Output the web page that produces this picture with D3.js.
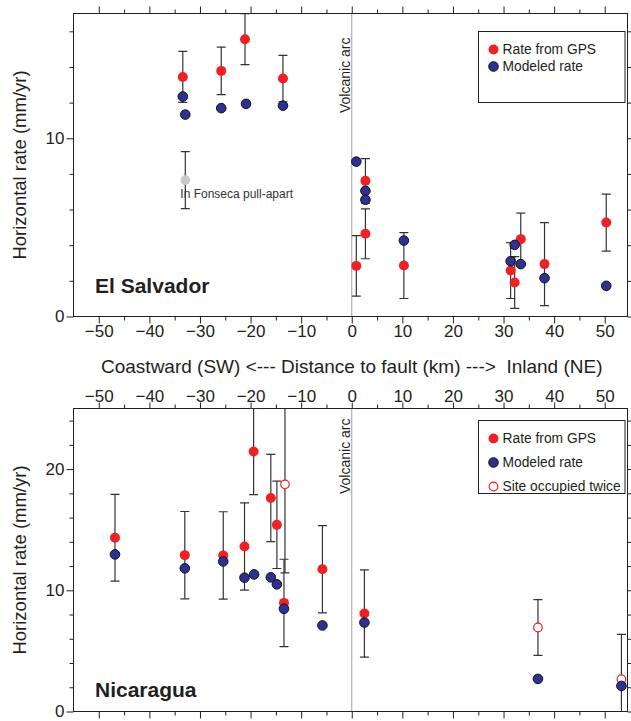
<!DOCTYPE html>
<html><head><meta charset="utf-8">
<script src="https://cdn.jsdelivr.net/npm/d3@7"></script>
<style>
body{margin:0;background:#fff;}
svg text{font-family:"Liberation Sans",Arial,Helvetica,sans-serif;}
</style>
</head><body>
<svg id="chart" width="631" height="721"></svg>
<script>
// ---------- data ----------
const distTicks = [-50, -40, -30, -20, -10, 0, 10, 20, 30, 40, 50];
const distMinorTicks = [-45, -35, -25, -15, -5, 5, 15, 25, 35, 45];
const esRateTicks = [0, 10];
const esRateMinorTicks = [2, 4, 6, 8, 12, 14, 16];
const niRateTicks = [0, 10, 20];
const niRateMinorTicks = [2, 4, 6, 8, 12, 14, 16, 18, 22, 24];

// El Salvador
const esGpsDist = [-33.4, -25.8, -21.1, -13.6, 0.9, 2.7, 2.7, 10.3, 31.4, 32.2, 33.4, 38.1, 50.3];
const esGpsRate = [13.44, 13.78, 15.56, 13.35, 2.84, 7.61, 4.64, 2.86, 2.58, 1.91, 4.34, 2.94, 5.27];
const esGpsErr  = [1.43, 1.33, 1.43, 1.30, 1.70, 1.25, 1.40, 1.85, 1.57, 1.45, 1.46, 2.33, 1.60];
const esModDist = [-33.4, -32.9, -25.8, -20.9, -13.6, 0.9, 2.7, 2.7, 10.3, 31.4, 32.2, 33.4, 38.1, 50.3];
const esModRate = [12.34, 11.33, 11.69, 11.93, 11.83, 8.69, 7.05, 6.55, 4.26, 3.10, 4.02, 2.94, 2.15, 1.72];
const esFonsecaDist = [-32.9];
const esFonsecaRate = [7.65];
const esFonsecaErr  = [1.60];

// Nicaragua
const niGpsDist = [-46.8, -33.0, -25.4, -21.2, -19.4, -16.0, -14.8, -13.4, -5.8, 2.5];
const niGpsRate = [14.33, 12.90, 12.88, 13.62, 21.45, 17.62, 15.40, 8.96, 11.73, 8.08];
const niGpsErr  = [3.58, 3.60, 3.60, 3.60, 3.56, 3.60, 3.60, 3.60, 3.60, 3.60];
const niTwiceDist = [-13.2, 36.8, 53.3];
const niTwiceRate = [18.74, 6.93, 2.66];
const niTwiceErr  = [7.31, 2.30, 3.70];
const niModDist = [-46.8, -33.0, -25.4, -21.2, -19.3, -16.0, -14.8, -13.4, -5.8, 2.5, 36.8, 53.3];
const niModRate = [12.96, 11.81, 12.38, 11.04, 11.31, 11.07, 10.49, 8.47, 7.10, 7.34, 2.69, 2.11];

// ---------- layout ----------
const RED = "#ec2227", BLUE = "#2e3192", GREY = "#c9c9c9", INK = "#231f20";
const L = 73.5, R = 627.5;
const x = d3.scaleLinear().domain([-55, 54.5]).range([L, R]);
const yES = d3.scaleLinear().domain([0, 17]).range([316.5, 13.5]);
const yNI = d3.scaleLinear().domain([0, 25]).range([711.5, 408.5]);

const svg = d3.select("#chart");
const FONT = '"Liberation Sans",Arial,Helvetica,sans-serif';

function styleAxis(g, size) {
  g.attr("font-family", FONT).attr("font-size", size);
  g.select(".domain").remove();
  g.selectAll(".tick line").attr("stroke", INK).attr("stroke-width", 1);
  g.selectAll(".tick text").attr("fill", INK);
}

function panel(id, y, rateTicks, rateMinor, xLabelsBelow, arcOffset) {
  const [y0, y1] = y.range(); // bottom, top
  const g = svg.append("g");

  // x axis bottom
  const gb = g.append("g").attr("transform", `translate(0,${y0})`)
    .call(d3.axisBottom(x).tickValues(distTicks).tickSize(7).tickPadding(1)
      .tickFormat(xLabelsBelow ? d3.format("d") : () => ""));
  styleAxis(gb, 17);
  const gbm = g.append("g").attr("transform", `translate(0,${y0})`)
    .call(d3.axisBottom(x).tickValues(distMinorTicks).tickSize(4).tickFormat(() => ""));
  styleAxis(gbm, 17);

  // x axis top
  const gt = g.append("g").attr("transform", `translate(0,${y1})`)
    .call(d3.axisTop(x).tickValues(distTicks).tickSize(xLabelsBelow ? 7 : 6).tickPadding(1)
      .tickFormat(xLabelsBelow ? () => "" : d3.format("d")));
  styleAxis(gt, 17);
  const gtm = g.append("g").attr("transform", `translate(0,${y1})`)
    .call(d3.axisTop(x).tickValues(distMinorTicks).tickSize(4).tickFormat(() => ""));
  styleAxis(gtm, 17);

  // y axis left
  const gl = g.append("g").attr("transform", `translate(${L},0)`)
    .call(d3.axisLeft(y).tickValues(rateTicks).tickSize(7).tickPadding(2).tickFormat(d3.format("d")));
  styleAxis(gl, 17);
  const glm = g.append("g").attr("transform", `translate(${L},0)`)
    .call(d3.axisLeft(y).tickValues(rateMinor).tickSize(4).tickFormat(() => ""));
  styleAxis(glm, 17);

  // y axis right
  const gr = g.append("g").attr("transform", `translate(${R},0)`)
    .call(d3.axisRight(y).tickValues(rateTicks.concat(rateMinor)).tickSize(4).tickFormat(() => ""));
  styleAxis(gr, 17);

  // frame
  g.append("rect").attr("x", L).attr("y", y1).attr("width", R - L).attr("height", y0 - y1)
    .attr("fill", "none").attr("stroke", INK).attr("stroke-width", 1);

  // volcanic arc line
  g.append("line").attr("x1", x(0)).attr("x2", x(0)).attr("y1", y1).attr("y2", y0)
    .attr("stroke", "#444").attr("stroke-width", 1).attr("stroke-dasharray", "1,1");
  g.append("text").attr("transform", `translate(${x(0) - 2},${y1 + arcOffset}) rotate(-90)`)
    .attr("text-anchor", "end").attr("font-size", 14).attr("fill", INK).text("Volcanic arc");

  // y label
  g.append("text").attr("transform", `translate(26,${(y0 + y1) / 2}) rotate(-90)`)
    .attr("text-anchor", "middle").attr("font-size", 18.5).attr("fill", INK)
    .text("Horizontal rate (mm/yr)");

  // clip
  svg.append("clipPath").attr("id", id).append("rect")
    .attr("x", L).attr("y", y1).attr("width", R - L).attr("height", y0 - y1);
  const plot = g.append("g").attr("clip-path", `url(#${id})`);
  return plot;
}

function errorBars(plot, y, dist, rate, err, color) {
  const gg = plot.append("g").attr("stroke", color).attr("stroke-width", 1.2).attr("fill", "none");
  dist.forEach((d, i) => {
    const cx = x(d), lo = y(rate[i] - err[i]), hi = y(rate[i] + err[i]);
    gg.append("line").attr("x1", cx).attr("x2", cx).attr("y1", lo).attr("y2", hi);
    gg.append("line").attr("x1", cx - 4.5).attr("x2", cx + 4.5).attr("y1", lo).attr("y2", lo);
    gg.append("line").attr("x1", cx - 4.5).attr("x2", cx + 4.5).attr("y1", hi).attr("y2", hi);
  });
}

function dots(plot, y, dist, rate, fill, stroke, r, sw) {
  plot.append("g").selectAll("circle").data(dist).join("circle")
    .attr("cx", d => x(d)).attr("cy", (d, i) => y(rate[i])).attr("r", r)
    .attr("fill", fill).attr("stroke", stroke).attr("stroke-width", sw);
}

function legend(x0, y0, w, h, items, rowH) {
  const g = svg.append("g");
  g.append("rect").attr("x", x0).attr("y", y0).attr("width", w).attr("height", h)
    .attr("fill", "#fff").attr("stroke", INK).attr("stroke-width", 1);
  items.forEach((it, i) => {
    const cy = y0 + 18 + i * rowH;
    g.append("circle").attr("cx", x0 + 15).attr("cy", cy).attr("r", it.r)
      .attr("fill", it.fill).attr("stroke", it.stroke).attr("stroke-width", it.sw);
    g.append("text").attr("x", x0 + 24).attr("y", cy).attr("dy", "0.35em")
      .attr("font-size", 13.8).attr("fill", INK).text(it.label);
  });
}

// ---------- El Salvador ----------
const pES = panel("clipES", yES, esRateTicks, esRateMinorTicks, true, 24);
errorBars(pES, yES, esGpsDist, esGpsRate, esGpsErr, "#333");
errorBars(pES, yES, esFonsecaDist, esFonsecaRate, esFonsecaErr, "#333");
dots(pES, yES, esFonsecaDist, esFonsecaRate, GREY, "none", 4.8, 0);
dots(pES, yES, esGpsDist, esGpsRate, RED, "none", 5, 0);
dots(pES, yES, esModDist, esModRate, BLUE, "#111", 4.8, 1);
svg.append("text").attr("x", x(esFonsecaDist[0]) - 5).attr("y", yES(esFonsecaRate[0]) + 18)
  .attr("font-size", 12).attr("fill", "#333").text("In Fonseca pull-apart");
svg.append("text").attr("x", 95).attr("y", 293).attr("font-size", 21).attr("font-weight", "bold")
  .attr("fill", INK).text("El Salvador");
legend(478.5, 31.5, 146.5, 71, [
  {label: "Rate from GPS", fill: RED, stroke: "none", sw: 0, r: 5},
  {label: "Modeled rate", fill: BLUE, stroke: "#111", sw: 1, r: 4.8}
], 17);

// x axis title between panels
svg.append("text").attr("x", x(0)).attr("y", 373).attr("text-anchor", "middle")
  .attr("font-size", 19).attr("fill", INK)
  .text("Coastward (SW) <--- Distance to fault (km) --->\u00a0 Inland (NE)");

// ---------- Nicaragua ----------
const pNI = panel("clipNI", yNI, niRateTicks, niRateMinorTicks, false, 10);
errorBars(pNI, yNI, niGpsDist, niGpsRate, niGpsErr, "#333");
errorBars(pNI, yNI, niTwiceDist, niTwiceRate, niTwiceErr, "#333");
dots(pNI, yNI, niGpsDist, niGpsRate, RED, "none", 5, 0);
dots(pNI, yNI, niTwiceDist, niTwiceRate, "#fff", RED, 4.3, 1.2);
dots(pNI, yNI, niModDist, niModRate, BLUE, "#111", 4.8, 1);
svg.append("text").attr("x", 95).attr("y", 697).attr("font-size", 21).attr("font-weight", "bold")
  .attr("fill", INK).text("Nicaragua");
legend(478.5, 420.5, 146.5, 73, [
  {label: "Rate from GPS", fill: RED, stroke: "none", sw: 0, r: 5},
  {label: "Modeled rate", fill: BLUE, stroke: "#111", sw: 1, r: 4.8},
  {label: "Site occupied twice", fill: "#fff", stroke: RED, sw: 1.2, r: 4.3}
], 24);
</script>
</body></html>
